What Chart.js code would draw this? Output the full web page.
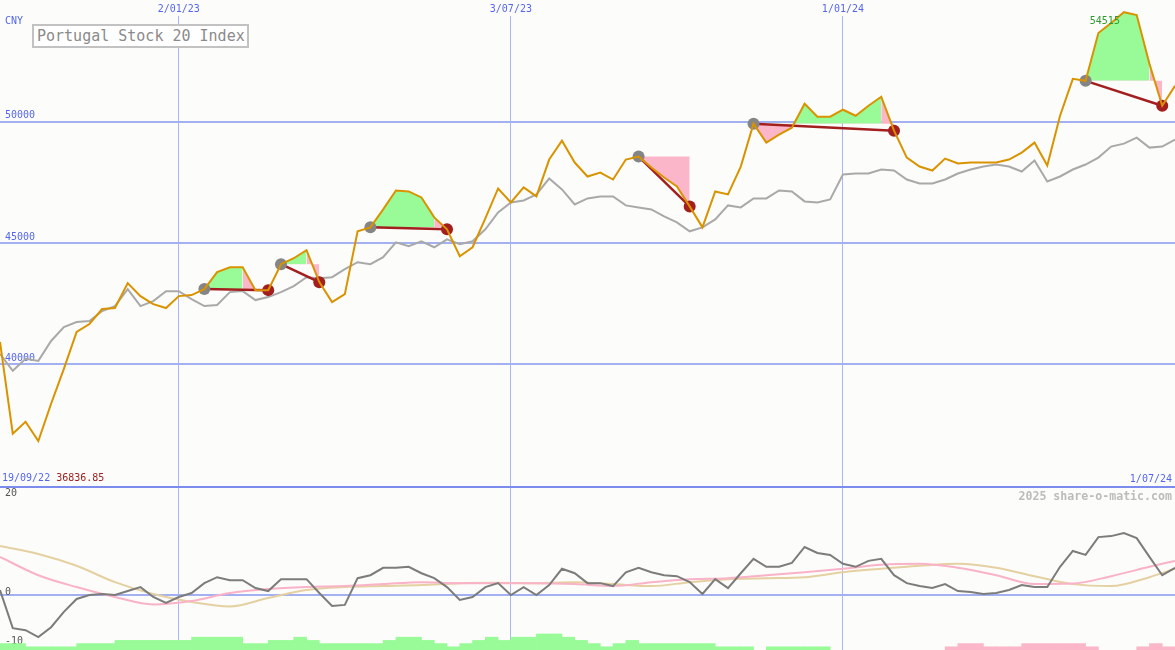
<!DOCTYPE html>
<html>
<head>
<meta charset="utf-8">
<title>Portugal Stock 20 Index</title>
<script src="https://cdn.jsdelivr.net/npm/chart.js@4.4.1/dist/chart.umd.min.js"></script>
<style>
  html, body { margin: 0; padding: 0; background: #fcfdfa; }
  #wrap { position: relative; width: 1175px; height: 650px; overflow: hidden; background: #fcfdfa; font-family: "DejaVu Sans Mono", monospace; }
  canvas { position: absolute; left: 0; }
  #main { top: 0; }
  #osc { top: 486px; }
  .lbl { position: absolute; font-size: 10px; line-height: 12px; white-space: pre; }
  #title { position: absolute; left: 32px; top: 24px; width: 217px; height: 24px; box-sizing: border-box;
           border: 2px solid #c2c2c2; background: #fff; color: #8a8a8a; font-size: 15px; line-height: 20px; padding-left: 3px; white-space: pre; }
  #wm { position: absolute; right: 3px; top: 489px; font-size: 11.6px; font-weight: bold; line-height: 14px; color: #bcbcbc; }
</style>
</head>
<body>
<div id="wrap">
  <canvas id="main" width="1175" height="488"></canvas>
  <canvas id="osc" width="1175" height="164"></canvas>
  <div class="lbl" style="left:5px; top:15px; color:#5566ee">CNY</div>
  <div id="title">Portugal Stock 20 Index</div>
  <div class="lbl" style="left:2px; top:472px;"><span style="color:#5566ee" id="startDate"></span> <span style="color:#a01e1e" id="lowVal"></span></div>
  <div class="lbl" style="right:3px; top:473px; color:#5566ee" id="endDate"></div>
  <div id="wm">2025 share-o-matic.com</div>
</div>
<script>
// weekly closes, week index 0..92
const closeVals = [
  40921, 37142, 37635, 36836.85, 38374, 39812, 41332, 41661, 42277, 42318,
  43345, 42811, 42482, 42318, 42811, 42852, 43099, 43797, 44002, 44002,
  43057, 43057, 44126, 44372, 44701, 43386, 42564, 42893, 45481, 45645,
  46385, 47166, 47124, 46878, 46056, 45563, 44454, 44824, 46015, 47248,
  46672, 47289, 46919, 48439, 49219, 48316, 47741, 47905, 47617, 48439,
  48562, 48110, 47700, 47330, 46508, 45645, 47124, 47001, 48151, 49918,
  49137, 49466, 49754, 50739, 50205, 50205, 50493, 50246, 50657, 51027,
  49630, 48521, 48151, 47987, 48480, 48275, 48316, 48316, 48316, 48439,
  48727, 49137, 48192, 50246, 51766, 51684, 53656, 54067, 54515, 54396,
  52383, 50657, 51479
];
const avgVals = [
  40428, 39730, 40223, 40141, 40962, 41537, 41743, 41784, 42195, 42400,
  43099, 42400, 42606, 43016, 43016, 42688, 42400, 42441, 42975, 43016,
  42647, 42770, 42975, 43222, 43591, 43550, 43591, 43920, 44208, 44126,
  44413, 45029, 44865, 45070, 44824, 45153, 44947, 45070, 45563, 46262,
  46672, 46755, 47001, 47658, 47207, 46590, 46837, 46919, 46919, 46549,
  46467, 46385, 46097, 45851, 45481, 45645, 45974, 46549, 46467, 46837,
  46837, 47166, 47124, 46714, 46672, 46796, 47823, 47864, 47864, 48028,
  47987, 47617, 47453, 47453, 47617, 47864, 48028, 48151, 48234, 48151,
  47946, 48398, 47535, 47741, 48028, 48234, 48521, 48973, 49096, 49343,
  48932, 48973, 49261
];

// trades: entry week, week where the red part starts, exit week
const tradeStart = [16, 22, 29, 50, 59, 85];
const tradeTail  = [19, 24, 34, 50, 69, 90];
const tradeEnd   = [21, 25, 35, 54, 70, 91];

// lower panel
const oscVals = [
  1.0, -6.7, -7.1, -8.5, -6.5, -3.4, -0.8, 0.0, 0.2, 0.0,
  0.8, 1.6, -0.4, -1.6, -0.4, 0.4, 2.4, 3.6, 3.0, 3.0,
  1.4, 0.8, 3.2, 3.2, 3.2, 0.4, -2.2, -2.0, 3.4, 4.0,
  5.5, 5.5, 5.7, 4.4, 3.4, 1.6, -1.0, -0.4, 1.6, 2.4,
  0.0, 1.6, 0.0, 2.0, 5.3, 4.4, 2.4, 2.4, 1.8, 4.6,
  5.5, 4.6, 4.0, 3.8, 2.6, 0.2, 3.2, 1.4, 4.4, 7.3,
  5.7, 5.7, 6.5, 9.7, 8.5, 8.1, 6.3, 5.7, 6.9, 7.3,
  4.0, 2.4, 1.8, 1.4, 2.2, 0.8, 0.6, 0.2, 0.4, 1.0,
  2.0, 1.6, 1.6, 5.7, 8.9, 8.1, 11.7, 11.9, 12.5, 11.5,
  7.7, 4.0, 5.5
];
const smoothWeeks = [0, 3, 6, 9, 12, 15, 18, 21, 24, 27, 30, 33, 36, 39, 42, 45,
                     48, 51, 54, 57, 60, 63, 66, 69, 72, 75, 78, 81, 84, 87, 90, 92];
const pinkVals = [7.7, 4.0, 1.6, -0.4, -1.9, -1.2, 0.4, 1.2, 1.6, 1.8, 2.2, 2.6, 2.4, 2.4, 2.4, 2.2,
                  1.8, 2.6, 3.2, 3.4, 4.0, 4.6, 5.3, 6.1, 6.3, 5.5, 4.0, 2.2, 2.3, 3.8, 5.7, 6.9];
const tanVals  = [9.9, 8.3, 5.9, 2.6, 0.2, -1.4, -2.3, -0.6, 1.0, 1.6, 1.8, 2.0, 2.4, 2.5, 2.4, 2.6,
                  2.2, 1.8, 2.6, 3.2, 3.4, 3.6, 4.6, 5.3, 5.9, 6.3, 5.5, 3.8, 2.2, 1.8, 3.6, 5.3];
// bar j covers week j..j+1, positive green, negative pink
const histVals = [
  2, 2, 1, 1, 1, 1, 2, 2, 2, 3, 3, 3, 3, 3, 3, 4, 4, 4, 4, 2,
  2, 3, 3, 4, 3, 2, 2, 2, 2, 2, 3, 4, 4, 3, 2, 1, 2, 3, 4, 3,
  4, 4, 5, 5, 4, 3, 2, 1, 2, 3, 2, 2, 2, 2, 2, 2, 1, 1, 1, 0,
  1, 1, 1, 1, 1, 0, 0, 0, 0, 0, 0, 0, 0, 0, -1, -2, -2, -1, -1, -1,
  -2, -2, -2, -2, -2, -1, 0, 0, 0, -1, -2, -1
];

const xTickPos    = [14, 40, 66];
const xTickLabels = ["2/01/23", "3/07/23", "1/01/24"];
const yTickPos    = [40000, 45000, 50000];
const oscTickPos  = [-10, 0, 20];
const startLabel  = "19/09/22";
const endLabel    = "1/07/24";

const BG = "#fcfdfa";
const BLUE = "#5566ee";
const GREEN = "#98fb98";
const PINK = "#fbb6c9";
const DARKRED = "#a31e1e";
const FONT = { family: "'DejaVu Sans Mono', monospace", size: 10 };

document.getElementById("startDate").textContent = startLabel;
document.getElementById("endDate").textContent = endLabel;
document.getElementById("lowVal").textContent = Math.min(...closeVals).toFixed(2);

const pts = (arr, from = 0, to = arr.length - 1) => {
  const out = [];
  for (let i = from; i <= to; i++) out.push({ x: i, y: arr[i] });
  return out;
};
const setTicks = list => s => { s.ticks = list.map(v => ({ value: v })); };
const noPad = s => { s.paddingTop = 0; s.paddingBottom = 0; s.paddingLeft = 0; s.paddingRight = 0; };

const datasets = [];
tradeStart.forEach((s, t) => {
  const lvl = closeVals[s];
  if (tradeTail[t] > s) {
    datasets.push({
      data: pts(closeVals, s, tradeTail[t]), borderWidth: 0, pointRadius: 0, order: 6,
      fill: { target: { value: lvl }, above: GREEN, below: PINK }
    });
  }
  datasets.push({
    data: pts(closeVals, tradeTail[t], tradeEnd[t]), borderWidth: 0, pointRadius: 0, order: 6,
    fill: { target: { value: lvl }, above: PINK, below: PINK }
  });
  datasets.push({
    data: [{ x: s, y: lvl }, { x: tradeEnd[t], y: closeVals[tradeEnd[t]] }],
    borderColor: DARKRED, borderWidth: 2.5, pointRadius: 6, pointBorderWidth: 0,
    pointBackgroundColor: ["#858585", DARKRED], order: 2
  });
});
datasets.push({ data: pts(avgVals), borderColor: "#a9a9a9", borderWidth: 2, pointRadius: 0, order: 4 });
datasets.push({ data: pts(closeVals), borderColor: "#da9300", borderWidth: 2, pointRadius: 0, order: 1 });

const peakLabel = {
  id: "peakLabel",
  afterDatasetsDraw(chart) {
    const top = Math.max(...closeVals);
    const i = closeVals.indexOf(top);
    const x = chart.scales.x.getPixelForValue(i);
    const y = chart.scales.y.getPixelForValue(top);
    const c = chart.ctx;
    c.save();
    c.font = "10px 'DejaVu Sans Mono', monospace";
    c.fillStyle = "#2e9a2e";
    c.textAlign = "right";
    c.textBaseline = "middle";
    c.fillText(String(Math.round(top)), x - 4, y + 9);
    c.restore();
  }
};

new Chart(document.getElementById("main"), {
  type: "line",
  data: { datasets },
  plugins: [peakLabel],
  options: {
    responsive: false,
    animation: false,
    events: [],
    layout: { padding: 0, autoPadding: false },
    plugins: { legend: { display: false }, tooltip: { enabled: false } },
    scales: {
      x: {
        type: "linear", position: "top", min: 0, max: 92, offset: false,
        afterBuildTicks: setTicks(xTickPos),
        afterFit: s => { s.height = 0; noPad(s); },
        grid: { color: "#a9b6f4", lineWidth: 1, drawTicks: false, offset: false },
        border: { display: false },
        ticks: {
          mirror: true, padding: 3, autoSkip: false, maxRotation: 0, color: BLUE, font: FONT,
          showLabelBackdrop: true, backdropColor: BG,
          backdropPadding: { top: 4, bottom: 1, left: 2, right: 2 },
          callback: (v, i) => xTickLabels[i]
        }
      },
      y: {
        min: 34901, max: 55016,
        afterBuildTicks: setTicks(yTickPos),
        afterFit: s => { s.width = 0; noPad(s); },
        grid: { color: "#a3b1f2", lineWidth: 2, drawTicks: false },
        border: { display: false },
        ticks: { mirror: true, padding: 5, labelOffset: -6, color: BLUE, font: FONT, callback: v => String(v) }
      }
    }
  }
});

new Chart(document.getElementById("osc"), {
  type: "line",
  data: {
    datasets: [
      {
        type: "bar", yAxisID: "yh", order: 5,
        data: histVals.map((v, j) => ({ x: j + 0.5, y: Math.abs(v) })),
        backgroundColor: histVals.map(v => v > 0 ? GREEN : v < 0 ? PINK : "rgba(0,0,0,0)"),
        borderWidth: 0, barPercentage: 1, categoryPercentage: 1
      },
      {
        data: smoothWeeks.map((x, k) => ({ x, y: tanVals[k] })), borderColor: "#e5d0a2",
        borderWidth: 2, pointRadius: 0, cubicInterpolationMode: "monotone", order: 3
      },
      {
        data: smoothWeeks.map((x, k) => ({ x, y: pinkVals[k] })), borderColor: "#f9b2c8",
        borderWidth: 2, pointRadius: 0, cubicInterpolationMode: "monotone", order: 2
      },
      { data: pts(oscVals), borderColor: "#7c7c7c", borderWidth: 2, pointRadius: 0, order: 1 }
    ]
  },
  options: {
    responsive: false,
    animation: false,
    events: [],
    layout: { padding: { top: 1, left: 0, right: 0, bottom: 0 }, autoPadding: false },
    plugins: { legend: { display: false }, tooltip: { enabled: false } },
    scales: {
      x: {
        type: "linear", position: "top", min: 0, max: 92, offset: false,
        afterBuildTicks: setTicks(xTickPos),
        afterFit: s => { s.height = 0; noPad(s); },
        grid: { color: "#a9b6f4", lineWidth: 1, drawTicks: false, offset: false },
        border: { display: true, color: "#7b8bee", width: 2 },
        ticks: { display: false }
      },
      y: {
        min: -11.11, max: 21.82,
        afterBuildTicks: setTicks(oscTickPos),
        afterFit: s => { s.width = 0; noPad(s); },
        grid: { color: c => c.tick && c.tick.value === 0 ? "#a3b1f2" : "rgba(0,0,0,0)", lineWidth: 2, drawTicks: false },
        border: { display: false },
        ticks: { mirror: true, padding: 5, labelOffset: -3, color: "#555", font: FONT, callback: v => String(v) }
      },
      yh: { display: false, min: 0, max: 50.9 }
    }
  }
});
</script>
</body>
</html>
